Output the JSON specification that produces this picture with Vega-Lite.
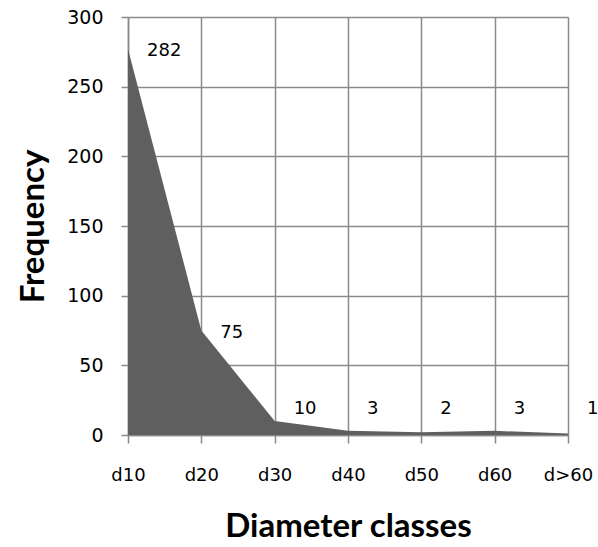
{
  "$schema": "https://vega.github.io/schema/vega-lite/v6.json",
  "width": 440,
  "height": 418,
  "autosize": "none",
  "padding": {"left": 128, "top": 17, "right": 30, "bottom": 112},
  "background": "white",
  "config": {"view": {"stroke": null}},
  "data": {"values": [
    {"cls": "d10", "value": 277, "label": "282"},
    {"cls": "d20", "value": 75, "label": "75"},
    {"cls": "d30", "value": 10, "label": "10"},
    {"cls": "d40", "value": 3, "label": "3"},
    {"cls": "d50", "value": 2, "label": "2"},
    {"cls": "d60", "value": 3, "label": "3"},
    {"cls": "d>60", "value": 1, "label": "1"}
  ]},
  "encoding": {
    "x": {"field": "cls", "type": "ordinal", "sort": null,
      "scale": {"type": "point", "padding": 0},
      "axis": {"title": "Diameter classes", "labelAngle": 0, "grid": true, "gridColor": "#8a8a8a", "gridWidth": 1.5,
        "domainColor": "#8a8a8a", "domainWidth": 1.5, "tickColor": "#8a8a8a", "tickWidth": 1.5, "tickSize": 8,
        "labelFont": "DejaVu Sans", "labelFontSize": 18, "labelColor": "#000", "labelPadding": 23,
        "titleFont": "Lato", "titleFontSize": 33, "titleFontWeight": "bold", "titleColor": "#000", "titlePadding": 26}}
  },
  "layer": [
    {"mark": {"type": "area", "color": "#5f5f5f", "opacity": 1},
     "encoding": {
       "y": {"field": "value", "type": "quantitative",
         "scale": {"domain": [0, 300]},
         "axis": {"title": "Frequency", "values": [0, 50, 100, 150, 200, 250, 300], "grid": true, "gridColor": "#8a8a8a", "gridWidth": 1.5,
           "domainColor": "#8a8a8a", "domainWidth": 1.5, "tickColor": "#8a8a8a", "tickWidth": 1.5, "tickSize": 7,
           "labelFont": "DejaVu Sans", "labelFontSize": 19, "labelColor": "#000", "labelPadding": 18,
           "titleFont": "Lato", "titleFontSize": 33, "titleFontWeight": "bold", "titleColor": "#000", "titlePadding": 16}}
     }},
    {"transform": [{"calculate": "max(datum.value, 20)", "as": "ly"}],
     "mark": {"type": "text", "align": "left", "baseline": "middle", "dx": 19, "dy": 2, "font": "DejaVu Sans", "fontSize": 18, "color": "#000", "clip": false},
     "encoding": {
       "y": {"field": "ly", "type": "quantitative"},
       "text": {"field": "label"}
     }}
  ]
}
